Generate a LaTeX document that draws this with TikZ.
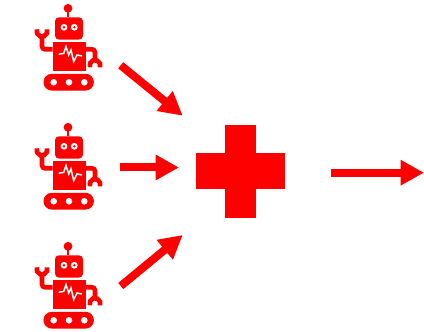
\documentclass[tikz,border=0pt]{standalone}
\usetikzlibrary{arrows.meta}
\definecolor{robotred}{HTML}{FF0000}
\tikzset{
  robot/.pic={
    \fill[robotred] (0,0) circle (4.4);
    \draw[robotred, line width=2.6pt] (0,0) -- (0,-9);
    \fill[robotred, rounded corners=4pt] (-13,-9) rectangle (15,-31.3);
    \fill[white] (-4,-19) circle (3.4) (6.3,-19) circle (3.4);
    \fill[robotred] (-4,-19) circle (1.3) (6.3,-19) circle (1.3);
    \fill[robotred] (-15.5,-33.3) rectangle (18.2,-62.5);
    \draw[white, line width=1.5pt] (-9.3,-46) -- (-4.3,-45) -- (-2,-38.3) -- (0.7,-46.7) -- (3,-41.7) -- (5.7,-53.3) -- (9,-46.7) -- (14,-47.7);
    % arms and claws
    \draw[armline, rounded corners=3pt] (-15.3,-41) -- (-26,-41) -- (-26,-27);
    \draw[armline] (-31.1,-21) arc[start angle=160, end angle=380, radius=5.4];
    \draw[armline, rounded corners=3pt] (18,-41) -- (27,-41) -- (27,-53);
    \draw[armline] (21.9,-59) arc[start angle=200, end angle=-20, radius=5.4];
    % tracks
    \fill[robotred, rounded corners=8.3pt] (-24.5,-65.5) rectangle (25.9,-82.3);
    \fill[white] (-14.3,-74) circle (3.3) (1,-74) circle (3.3) (16.3,-74) circle (3.3);
  }
}
\begin{document}
\begin{tikzpicture}[
  x=1pt, y=1pt,
  armline/.style={draw=robotred, line width=4.6pt},
  flow/.style={-{Triangle[length=23.3pt, width=24pt]}, draw=robotred, line width=8pt},
  bar/.style={fill=robotred}
]
  \useasboundingbox (0,0) rectangle (424,332);
  \pic at (68,323.7) {robot};
  \pic at (68,204.7) {robot};
  \pic at (68,85.7) {robot};

  \node[minimum width=88.5pt, minimum height=92.7pt, inner sep=0pt] (plus) at (240.3,160.65) {};
  \fill[bar] (196,178.7) rectangle (284.5,142.5);
  \fill[bar] (224.7,207) rectangle (256,114.3);

  \coordinate (outA) at (120.7,266.7);
  \coordinate (outB) at (120.3,164.5);
  \coordinate (outC) at (120.8,46);
  \coordinate (inA) at (182.7,216.3);
  \coordinate (inB) at (179,164.5);
  \coordinate (inC) at (182.7,97);
  \coordinate (outD) at (330.7,159.3);
  \coordinate (endD) at (424,159.3);
  \draw[flow] (outA) -- (inA);
  \draw[flow] (outB) -- (inB);
  \draw[flow] (outC) -- (inC);
  \draw[flow] (outD) -- (endD);
\end{tikzpicture}
\end{document}
